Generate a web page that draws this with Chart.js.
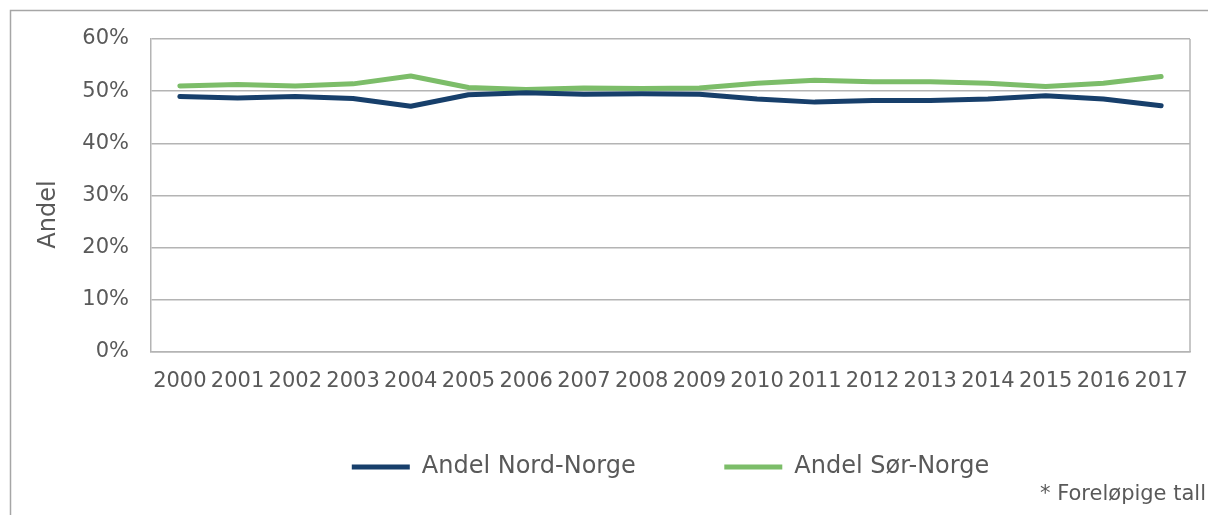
<!DOCTYPE html>
<html>
<head>
<meta charset="utf-8">
<script src="https://cdn.jsdelivr.net/npm/chart.js"></script>
<style>
  body { margin: 0; background: #fff; }
  #wrap { width: 1208px; height: 515px; position: relative; }
</style>
</head>
<body>
<div id="wrap"><canvas id="myChart"></canvas></div>
<script>
// data (percent)
var years = ['2000','2001','2002','2003','2004','2005','2006','2007','2008','2009',
             '2010','2011','2012','2013','2014','2015','2016','2017'];
var andelNord = [49.0, 48.7, 49.0, 48.6, 47.1, 49.3, 49.7, 49.4, 49.5, 49.4,
                 48.5, 47.9, 48.2, 48.2, 48.5, 49.1, 48.5, 47.2];
var andelSor  = [51.0, 51.3, 51.0, 51.4, 52.9, 50.7, 50.3, 50.6, 50.5, 50.6,
                 51.5, 52.1, 51.8, 51.8, 51.5, 50.9, 51.5, 52.8];
var yTicks = [0, 10, 20, 30, 40, 50, 60];
var footnote = '* Foreløpige tall';

Chart.defaults.font.family = "'DejaVu Sans', Verdana, sans-serif";
Chart.defaults.color = '#595959';

var gridCol = '#b4b4b4';

// outer frame, right edge of plot box, footnote
var extras = {
  id: 'extras',
  beforeDraw: function(chart) {
    var ctx = chart.ctx;
    ctx.save();
    ctx.fillStyle = '#fff';
    ctx.fillRect(0, 0, chart.width, chart.height);
    ctx.strokeStyle = '#a6a6a6';
    ctx.lineWidth = 1.5;
    ctx.strokeRect(10.5, 10.5, chart.width + 50, chart.height + 50);
    ctx.restore();
  },
  afterDraw: function(chart) {
    var ctx = chart.ctx, a = chart.chartArea;
    ctx.save();
    ctx.strokeStyle = gridCol;
    ctx.lineWidth = 1.5;
    ctx.beginPath();
    ctx.moveTo(a.right, a.top);
    ctx.lineTo(a.right, a.bottom);
    ctx.stroke();
    ctx.fillStyle = '#595959';
    ctx.font = "21px 'DejaVu Sans'";
    ctx.textBaseline = 'middle';
    ctx.fillText(footnote, 1040, 495);
    ctx.restore();
  }
};

var datasets = [
  { label: 'Andel Nord-Norge', data: andelNord, borderColor: '#173f6b', backgroundColor: '#173f6b' },
  { label: 'Andel Sør-Norge', data: andelSor, borderColor: '#7cbd69', backgroundColor: '#7cbd69' }
];
datasets.forEach(function(d) {
  d.borderWidth = 5;
  d.pointRadius = 0;
  d.tension = 0;
  d.borderCapStyle = 'round';
  d.borderJoinStyle = 'round';
});

new Chart(document.getElementById('myChart'), {
  type: 'line',
  data: { labels: years, datasets: datasets },
  options: {
    responsive: true,
    maintainAspectRatio: false,
    animation: false,
    layout: { padding: { left: 30, top: 39, right: 18, bottom: 26 } },
    scales: {
      x: {
        offset: true,
        grid: { display: false, drawTicks: false },
        border: { display: true, color: gridCol, width: 1.5 },
        ticks: { font: { size: 21 }, padding: 17, maxRotation: 0, autoSkip: false },
        afterFit: function(s) { s.height = 45; }
      },
      y: {
        min: 0, max: 60,
        afterBuildTicks: function(s) { s.ticks = yTicks.map(function(v) { return { value: v }; }); },
        grid: { color: gridCol, lineWidth: 1.5, drawTicks: false },
        border: { display: true, color: gridCol, width: 1.5 },
        ticks: { font: { size: 21 }, padding: 22, callback: function(v) { return v + '%'; } },
        title: { display: true, text: 'Andel\u00a0\u00a0\u00a0\u00a0\u00a0', font: { size: 24 }, padding: { top: 4, bottom: 0 } },
        afterFit: function(s) { s.width = 121; }
      }
    },
    plugins: {
      legend: {
        position: 'bottom',
        fullSize: false,
        labels: {
          font: { size: 24 },
          usePointStyle: true,
          pointStyle: 'line',
          pointStyleWidth: 58,
          padding: 58,
          generateLabels: function(chart) {
            var items = Chart.defaults.plugins.legend.labels.generateLabels(chart);
            items[0].text += '\u00a0\u00a0\u00a0\u00a0';
            return items;
          }
        }
      },
      tooltip: { enabled: false }
    }
  },
  plugins: [extras]
});
</script>
</body>
</html>
